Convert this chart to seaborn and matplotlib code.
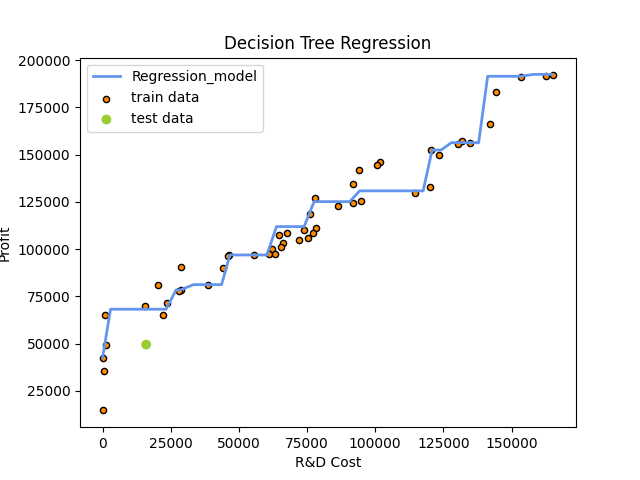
import pandas as pd
import matplotlib
matplotlib.use("Agg")
import matplotlib.pyplot as plt
import seaborn as sns

# 50 startups: R&D spend vs profit (train data)
rd_cost = [165349.2, 162597.7, 153441.51, 144372.41, 142107.34, 131876.9, 134615.46,
           130298.13, 120542.52, 123334.88, 101913.08, 100671.96, 93863.75, 91992.39,
           119943.24, 114523.61, 78013.11, 94657.16, 91749.16, 86419.7, 76253.86,
           78389.47, 73994.56, 67532.53, 77044.01, 64664.71, 75328.87, 72107.6,
           66051.52, 65605.48, 61994.48, 61136.38, 63408.86, 55493.95, 46426.07,
           46014.02, 28663.76, 44069.95, 20229.59, 38558.51, 28754.33, 27892.92,
           23640.93, 15505.73, 22177.74, 1000.23, 1315.46, 0.0, 542.05, 0.0]
profit = [192261.83, 191792.06, 191050.39, 182901.99, 166187.94, 156991.12, 156122.51,
          155752.6, 152211.77, 149759.96, 146121.95, 144259.4, 141585.52, 134307.35,
          132602.65, 129917.04, 126992.93, 125370.37, 124266.9, 122776.86, 118474.03,
          111313.02, 110352.25, 108733.99, 108552.04, 107404.34, 105733.54, 105008.31,
          103282.38, 101004.64, 99937.59, 97483.56, 97427.84, 96778.92, 96712.8,
          96479.51, 90708.19, 89949.14, 81229.06, 81005.76, 78239.91, 77798.83,
          71498.49, 69758.98, 65200.33, 64926.08, 49490.75, 42559.73, 35673.41, 14681.4]

# test data
test_cost = [16000]
test_profit = [49500]

# regression model curve
model_x = [0, 2930, 23300, 26960, 28500, 33400, 43650, 46700, 60250, 63780, 73900,
           77560, 90620, 94280, 117560, 120850, 124140, 127930, 137920, 141220,
           153180, 158050, 164750]
model_y = [42560, 68200, 68200, 78400, 78400, 81200, 81200, 96900, 96900, 111900,
           111900, 125100, 125100, 130800, 130800, 152400, 152400, 156300, 156300,
           191400, 191400, 192400, 192400]

train = pd.DataFrame({'R&D Cost': rd_cost, 'Profit': profit})
test = pd.DataFrame({'R&D Cost': test_cost, 'Profit': test_profit})
model = pd.DataFrame({'R&D Cost': model_x, 'Profit': model_y})

fig, ax = plt.subplots(figsize=(6.4, 4.8), dpi=100)

sns.lineplot(x='R&D Cost', y='Profit', data=model, color='cornflowerblue',
             linewidth=2, label='Regression_model', ax=ax)
sns.scatterplot(x='R&D Cost', y='Profit', data=train, s=20, color='darkorange',
                edgecolor='black', linewidth=1, label='train data', ax=ax)
sns.scatterplot(x='R&D Cost', y='Profit', data=test, s=50, color='yellowgreen',
                edgecolor='none', label='test data', ax=ax)

ax.set_title('Decision Tree Regression')
ax.set_xlabel('R&D Cost')
ax.set_ylabel('Profit')
ax.legend(loc='upper left')

plt.savefig('out.png')
